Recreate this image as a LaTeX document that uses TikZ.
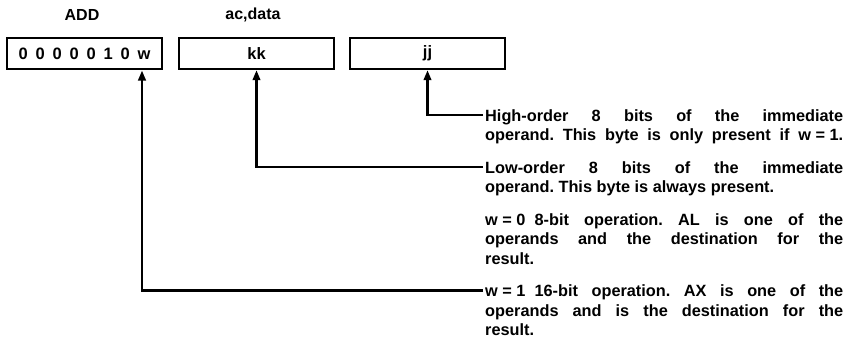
\documentclass[tikz,border=0pt]{standalone}
\usepackage{fontspec}
\setmainfont{Liberation Sans}
\usetikzlibrary{calc,arrows.meta}
\frenchspacing
\newcommand\jline[1]{\makebox[358pt][s]{#1}}
\begin{document}
\begin{tikzpicture}[x=1pt,y=-1pt,
  fieldbox/.style={draw, line width=2.4pt, minimum width=155pt, minimum height=31pt, inner sep=0pt, font=\fontsize{16.5}{18}\selectfont\bfseries},
  lbl/.style={inner sep=0pt, font=\fontsize{16}{18}\selectfont\bfseries},
  txt/.style={anchor=base west, inner sep=0pt, font=\fontsize{16.3}{20}\selectfont\bfseries},
  arr/.style={line width=2.4pt, -{Triangle[length=10pt,width=7.5pt]}}]
\useasboundingbox (0,0) rectangle (846,354);
% field boxes
\node[fieldbox] (box1) at (84.5,53.5) {\makebox[132pt][s]{0 0 0 0 0 1 0 w}};
\node[fieldbox] (box2) at (256.5,53.5) {kk};
\node[fieldbox] (box3) at (427.5,53.5) {jj};
\node[lbl] (add) at (82,15) {ADD};
\node[lbl] (acdata) at (253,15) {ac,data};
% description lines
\node[txt] (h1) at (485,121) {\jline{High-order 8 bits of the immediate}};
\node[txt] (h2) at (485,140.5) {\jline{operand. This byte is only present if \mbox{w = 1.}}};
\node[txt] (l1) at (485,173) {\jline{Low-order 8 bits of the immediate}};
\node[txt] (l2) at (485,192.5) {operand. This byte is always present.};
\node[txt] (w1) at (485,225) {\jline{\mbox{w = 0\ \ 8-bit} operation. AL is one of the}};
\node[txt] (w2) at (485,244.5) {\jline{operands and the destination for the}};
\node[txt] (w3) at (485,264) {result.};
\node[txt] (x1) at (485,296.5) {\jline{\mbox{w = 1\ \ 16-bit} operation. AX is one of the}};
\node[txt] (x2) at (485,316) {\jline{operands and is the destination for the}};
\node[txt] (x3) at (485,335.5) {result.};
% connector start points
\coordinate (h1c) at ($(h1.base west)+(-2,-6)$);
\coordinate (l1c) at ($(l1.base west)+(-2,-6)$);
\coordinate (x1c) at ($(x1.base west)+(-2,-6)$);
\coordinate (wbit) at (142,70.5);
% connectors
\draw[arr] (h1c) -| (box3.south);
\draw[arr] (l1c) -| (box2.south);
\draw[arr] (x1c) -| (wbit);
\end{tikzpicture}
\end{document}
